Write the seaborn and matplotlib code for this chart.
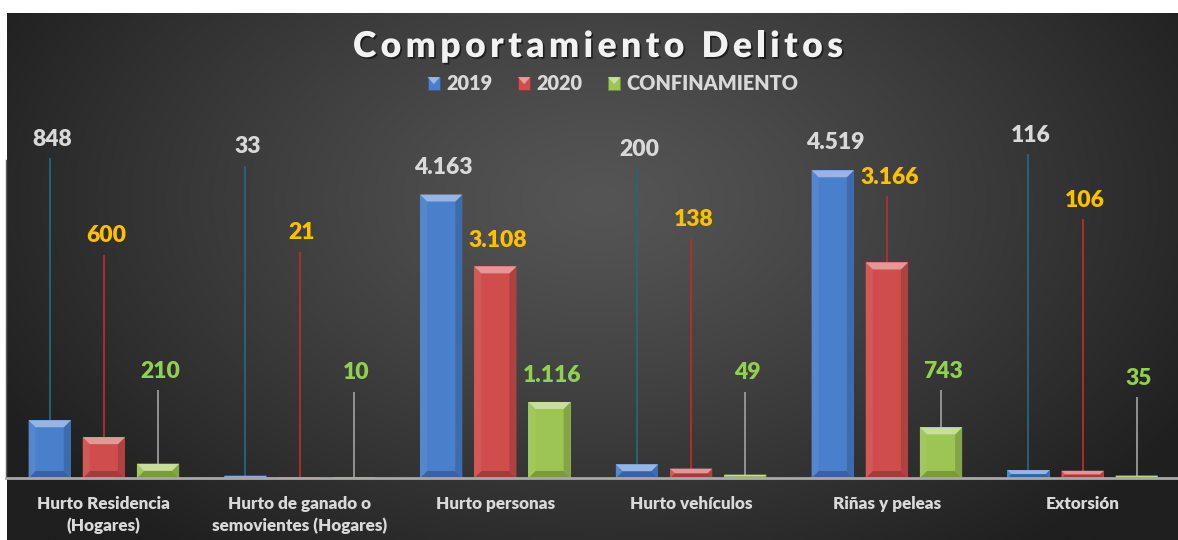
import numpy as np
import pandas as pd
import matplotlib
matplotlib.use("Agg")
import matplotlib.pyplot as plt
import seaborn as sns
from matplotlib.patches import Polygon, Rectangle
from matplotlib.legend_handler import HandlerPatch
from matplotlib import patheffects as pe
from matplotlib.colors import to_rgb
from matplotlib.ft2font import FT2Font
from matplotlib.font_manager import findfont, FontProperties

# ---------------- data ----------------
categories = ["Hurto Residencia\n(Hogares)", "Hurto de ganado o\nsemovientes (Hogares)",
              "Hurto personas", "Hurto vehículos", "Riñas y peleas", "Extorsión"]
series_names = ["2019", "2020", "CONFINAMIENTO"]
values_2019 = [848, 33, 4163, 200, 4519, 116]
values_2020 = [600, 21, 3108, 138, 3166, 106]
values_conf = [210, 10, 1116, 49, 743, 35]

# ---------------- layout / style ----------------
W, H = 1178, 540
WEIGHT = 800
bar_colors = ["#4A7FCB", "#CF4E4C", "#9CC553"]
label_colors = ["#D9D9D9", "#FFC000", "#92D050"]
leader_colors = ["#23687A", "#B3302E", "#9A9A9A"]
# data-label centre heights (in value units), placed like the dragged labels of the original
label_pos = [
    [4978, 4861, 4567, 4831, 4934, 5037],
    [3554, 3598, 3495, 3789, 4420, 4082],
    [1571, 1542, 1498, 1542, 1571, 1468],
]
YMAX = 4670

df = pd.DataFrame({
    "Delito": categories * 3,
    "Serie": [s for s in series_names for _ in categories],
    "Casos": values_2019 + values_2020 + values_conf,
})

sns.set_theme(style="dark")
plt.rcParams["font.family"] = ["Lato", "DejaVu Sans"]

fig = plt.figure(figsize=(W / 100, H / 100), dpi=100, facecolor="white")

# background radial gradient (dark chart area)
bg = fig.add_axes([7 / W, 0, 1 - 7 / W, (H - 13) / H])
xs = np.linspace(7, W, 600)
ys = np.linspace(13, H, 300)
X, Y = np.meshgrid(xs, ys)
r = np.sqrt(((X - 600) / 690) ** 2 + ((Y - 200) / 440) ** 2)
v = (85 - 54 * np.clip(r, 0, 1) ** 1.2) / 255.0
img = np.dstack([v, v, v])
bg.imshow(img, aspect="auto", extent=[0, 1, 0, 1], interpolation="bilinear")
bg.set_axis_off()
bg.set_zorder(0)

ax = fig.add_axes([6 / W, (H - 478) / H, 1174.5 / W, 318 / H])
ax.set_zorder(1)
ax.set_facecolor("none")

sns.barplot(data=df, x="Delito", y="Casos", hue="Serie", hue_order=series_names,
            palette=bar_colors, saturation=1, width=0.83, gap=0.22,
            errorbar=None, linewidth=0, ax=ax, legend=True)

leg = ax.get_legend()
handles = list(leg.legend_handles)
labels = [t.get_text() for t in leg.get_texts()]
leg.remove()

ax.set_ylim(0, YMAX)
ax.set_xlim(-0.5, 5.5)
ax.set_xlabel("")
ax.set_ylabel("")
ax.set_yticks([])
ax.grid(False)
for s in ["top", "right"]:
    ax.spines[s].set_visible(False)
ax.spines["bottom"].set_color("#A8A8A8")
ax.spines["bottom"].set_linewidth(2)
ax.spines["bottom"].set_zorder(5)
ax.spines["left"].set_color("#5E5E5E")
ax.spines["left"].set_linewidth(1)
ax.tick_params(axis="x", length=0, pad=13, labelcolor="#D9D9D9", labelsize=12.3)
for t in ax.get_xticklabels():
    t.set_fontweight(WEIGHT)
    t.set_linespacing(1.4)


def mix(c, other, t):
    c = np.array(to_rgb(c))
    o = np.array(to_rgb(other))
    return tuple(c + (o - c) * t)


px_x = ax.bbox.width / 6.0
px_y = ax.bbox.height / YMAX

for j, cont in enumerate(ax.containers):
    base = bar_colors[j]
    top_c = mix(base, "white", 0.42)
    left_c = mix(base, "white", 0.06)
    right_c = mix(base, "black", 0.16)
    bot_c = mix(base, "black", 0.22)
    for i, bar in enumerate(cont):
        x0 = bar.get_x()
        w = bar.get_width()
        h = bar.get_height()
        hp = h * px_y
        if hp >= 2:
            bp = min(7.0, hp / 2.0)
            bx = bp / px_x
            by = bp / px_y
            polys = [
                ([(x0, 0), (x0 + w, 0), (x0 + w - bx, by), (x0 + bx, by)], bot_c),
                ([(x0, 0), (x0, h), (x0 + bx, h - by), (x0 + bx, by)], left_c),
                ([(x0 + w, 0), (x0 + w, h), (x0 + w - bx, h - by), (x0 + w - bx, by)], right_c),
                ([(x0, h), (x0 + w, h), (x0 + w - bx, h - by), (x0 + bx, h - by)], top_c),
            ]
            for pts, col in polys:
                ax.add_patch(Polygon(pts, closed=True, facecolor=col, edgecolor="none", zorder=3))
        xc = x0 + w / 2
        ly = label_pos[j][i]
        txt = f"{int(h):,}".replace(",", ".")
        ax.text(xc + 0.012, ly, txt, ha="center", va="center", color=label_colors[j],
                fontsize=16.5, fontweight=WEIGHT, clip_on=False, zorder=6)
        start = ly - 19 / px_y
        if (start - h) * px_y > 12:
            ax.plot([xc, xc], [start, h], color=leader_colors[j], lw=1.3,
                    solid_capstyle="butt", clip_on=False, zorder=2)


# ---------------- legend ----------------
class BevelHandler(HandlerPatch):
    def create_artists(self, legend, orig_handle, xdescent, ydescent, width, height, fontsize, trans):
        fc = to_rgb(orig_handle.get_facecolor())
        x, y = -xdescent, -ydescent
        sq = Rectangle((x, y), width, height, facecolor=fc, edgecolor=mix(fc, "black", 0.3),
                       lw=0.6, transform=trans)
        tri = Polygon([(x, y + height), (x + width, y + height), (x + width / 2, y + height * 0.45)],
                      closed=True, facecolor=mix(fc, "white", 0.45), edgecolor="none", transform=trans)
        return [sq, tri]


hm = {type(h): BevelHandler() for h in handles}
fig.legend(handles, labels, loc="center", bbox_to_anchor=(613 / W, 1 - 84 / H), ncol=3,
           frameon=False, handler_map=hm, handlelength=0.62, handleheight=0.62,
           handletextpad=0.3, columnspacing=1.3, labelcolor="#D9D9D9",
           prop={"family": "Lato", "weight": WEIGHT, "size": 14.3})


# ---------------- title with letter spacing ----------------
def spaced_title(text, cx_px, baseline_px, size_pt, target_w_px):
    path = findfont(FontProperties(family="Lato", weight=WEIGHT))
    ft = FT2Font(path)
    ft.set_size(size_pt, fig.dpi)
    advs = [ft.load_char(ord(ch)).linearHoriAdvance / 65536.0 for ch in text]
    sp = (target_w_px - sum(advs)) / (len(text) - 1)
    x = cx_px - target_w_px / 2
    for ch, a in zip(text, advs):
        if ch != " ":
            fig.text(x / W, 1 - baseline_px / H, ch, ha="left", va="baseline",
                     fontsize=size_pt, fontweight=WEIGHT, family="Lato", color="#F2F2F2",
                     path_effects=[pe.SimplePatchShadow(offset=(1.2, -1.2), shadow_rgbFace="black", alpha=0.55),
                                   pe.Normal()], zorder=10)
        x += a + sp


spaced_title("Comportamiento Delitos", 598, 57, 25.5, 490)

fig.savefig("out.png", dpi=100, facecolor="white")
